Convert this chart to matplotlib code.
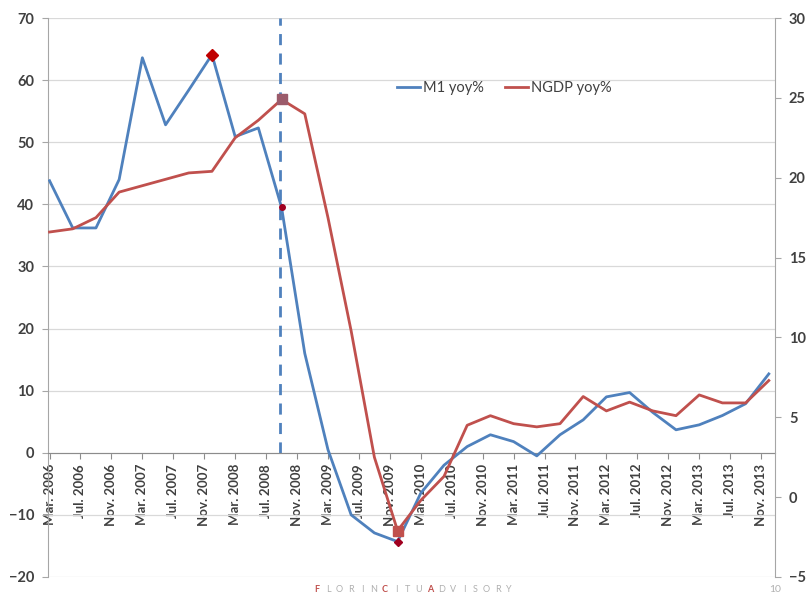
import matplotlib
matplotlib.use("Agg")
import matplotlib.pyplot as plt
import pandas as pd
import numpy as np

# ---- data ----
dates = pd.date_range("2006-03-01", periods=32, freq="3MS")
m1_yoy = [43.8, 36.2, 36.2, 44.0, 63.6, 52.8, 58.4, 64.1, 50.9, 52.3, 39.5, 16.0,
          0.5, -10.0, -12.9, -14.3, -6.5, -2.0, 1.0, 2.9, 1.8, -0.5, 2.9, 5.3,
          9.0, 9.7, 6.5, 3.7, 4.5, 6.0, 7.9, 12.7]
ngdp_yoy = [16.6, 16.8, 17.5, 19.1, 19.5, 19.9, 20.3, 20.4, 22.5, 23.6, 24.9, 24.0,
            17.5, 10.4, 2.5, -2.1, -0.2, 1.3, 4.5, 5.1, 4.6, 4.4, 4.6, 6.3,
            5.4, 5.95, 5.4, 5.1, 6.4, 5.9, 5.9, 7.3]
label_dates = pd.date_range("2006-03-01", "2013-11-01", freq="4MS")
month_abbr = {3: "Mar.", 7: "Jul.", 11: "Nov."}
tick_labels = [f"{month_abbr[d.month]} {d.year}" for d in label_dates]
event_date = pd.Timestamp("2008-09-01")  # Lehman marker

def midx(d):
    return (d.year - 2006) * 12 + d.month - 3

x = np.array([midx(d) for d in dates])
xt = [midx(d) for d in label_dates]
xe = midx(event_date)

BLUE = "#4F81BD"
RED = "#C0504D"
GRID = "#d9d9d9"
TXT = "#404040"
FONT = "Lato"

fig = plt.figure(figsize=(8.10, 5.97), dpi=100)
ax = fig.add_axes([48/810, 1-577/597, (775-48)/810, (577-18)/597])
ax2 = ax.twinx()

ax.set_xlim(-0.2, 93.8)
ax.set_ylim(-20, 70)
ax2.set_ylim(-5, 30)
ax.set_yticks(range(-20, 71, 10))
ax2.set_yticks(range(-5, 31, 5))

ax.yaxis.grid(True, color=GRID, lw=0.9)
ax.set_axisbelow(True)

for a in (ax, ax2):
    a.spines["top"].set_visible(False)
    a.spines["bottom"].set_visible(False)
    a.spines["left"].set_color("#a6a6a6")
    a.spines["right"].set_color("#a6a6a6")
ax.spines["right"].set_visible(False)
ax2.spines["left"].set_visible(False)
ax.spines["bottom"].set_visible(True)
ax.spines["bottom"].set_position(("data", 0))
ax.spines["bottom"].set_color("#8c8c8c")

ax.set_xticks(xt)
ax.set_xticklabels(tick_labels, rotation=90, fontsize=9.5, color=TXT,
                   fontfamily=FONT, fontweight="bold", va="top")
ax.tick_params(axis="x", length=4, color="#8c8c8c", pad=4)
ax.tick_params(axis="y", length=4, color="#a6a6a6", labelsize=10.5,
               labelcolor=TXT, pad=6)
ax2.tick_params(axis="y", length=4, color="#a6a6a6", labelsize=10.5,
                labelcolor=TXT, pad=6)
for lab in ax.get_yticklabels() + ax2.get_yticklabels():
    lab.set_fontfamily(FONT)
    lab.set_fontweight("bold")

# event line
ax.axvline(xe - 0.2, ymin=20/90, ymax=1, color=BLUE, lw=2, ls=(0, (4, 3)), zorder=2)

l1, = ax.plot(x, m1_yoy, color=BLUE, lw=2, label="M1 yoy%", zorder=4)
l2, = ax2.plot(x, ngdp_yoy, color=RED, lw=2, label="NGDP yoy%", zorder=4)

# highlight markers
i_peak = int(np.argmax(m1_yoy))
i_ev = list(x).index(xe)
i_trough = int(np.argmin(m1_yoy))
i_npeak = int(np.argmax(ngdp_yoy))
i_ntrough = int(np.argmin(ngdp_yoy))
ax.plot(x[i_peak], m1_yoy[i_peak], marker="D", color="#C00000", ms=6, zorder=6)
ax.plot(x[i_ev], m1_yoy[i_ev], marker="o", color="#A00020", ms=4, zorder=6)
ax.plot(x[i_trough], m1_yoy[i_trough], marker="D", color="#A00020", ms=4.5, zorder=6)
ax2.plot(x[i_npeak], ngdp_yoy[i_npeak], marker="s", color="#9B5B6B", ms=6.5, zorder=6)
ax2.plot(x[i_ntrough], ngdp_yoy[i_ntrough], marker="s", color="#C0504D", ms=6.5, zorder=6)

leg = ax.legend(handles=[l1, l2], loc="upper left", bbox_to_anchor=(0.462, 0.91),
                ncol=2, frameon=False, handlelength=1.6, handletextpad=0.2,
                columnspacing=1.4, prop={"family": FONT, "size": 10.5})
for t in leg.get_texts():
    t.set_color(TXT)

# footer
brand = "FLORINCITUADVISORY"
red_idx = {0, 6, 10}
x0, dx = 317, 11.3
for i, ch in enumerate(brand):
    fig.text((x0 + i * dx) / 810, 1 - 589/597, ch, fontsize=6.5,
             color="#C0504D" if i in red_idx else "#b0b0b0",
             fontweight="bold" if i in red_idx else "normal",
             ha="center", va="center", fontfamily=FONT)
fig.text(775/810, 1 - 590/597, "10", fontsize=7.5, color="#b0b0b0",
         ha="center", va="center", fontfamily=FONT)

fig.savefig("out.png", dpi=100)
